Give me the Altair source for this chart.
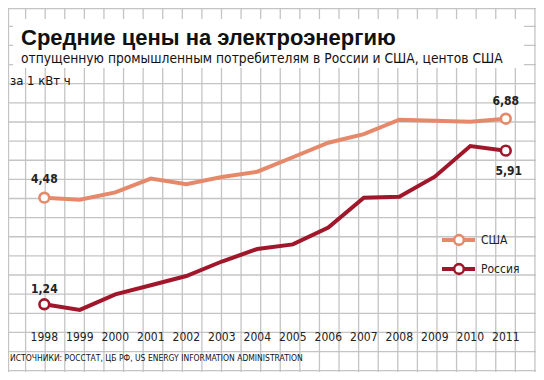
import altair as alt
import pandas as pd
import numpy as np

# ---- data ----
years = list(range(1998, 2012))
usa = [4.48, 4.42, 4.64, 5.06, 4.89, 5.11, 5.27, 5.71, 6.15, 6.41, 6.85, 6.82, 6.79, 6.88]
russia = [1.24, 1.07, 1.54, 1.82, 2.10, 2.54, 2.92, 3.06, 3.57, 4.48, 4.51, 5.12, 6.05, 5.91]
series_names = ["США", "Россия"]
end_labels = [("США", 1998, 4.48, "4,48"), ("Россия", 1998, 1.24, "1,24"),
              ("США", 2011, 6.88, "6,88"), ("Россия", 2011, 5.91, "5,91")]
title = "Средние цены на электроэнергию"
subtitle = "отпущенную промышленным потребителям в России и США, центов США"
unit = "за 1 кВт ч"
source = "ИСТОЧНИКИ: РОССТАТ, ЦБ РФ, US ENERGY INFORMATION ADMINISTRATION"

USA_C = "#E6896B"
RUS_C = "#A0172B"
TXT = "#222222"
GRID = "#c4c4c4"
W, H = 528, 364
COND = "DejaVu Sans Condensed, Roboto, sans-serif"

df = pd.DataFrame({
    "year": years * 2,
    "value": usa + russia,
    "series": ["США"] * len(years) + ["Россия"] * len(years),
})

xs = alt.Scale(domain=[1996.977, 2011.851], nice=False, zero=False)
ys = alt.Scale(domain=[-0.818, 10.246], nice=False, zero=False)
cs = alt.Scale(domain=series_names, range=[USA_C, RUS_C])

# ---- background grid (decoration) ----
vx = [0.5] + [float(v) for v in (-2 + 19.59 * np.arange(1, 28))]
hy = [0.5] + [float(v) for v in (-0.8 + 19.13 * np.arange(1, 20))]
vgrid = alt.Chart(pd.DataFrame({"gx": vx})).mark_rule(color=GRID, strokeWidth=1.3).encode(
    x=alt.X("gx:Q", scale=None), y=alt.value(0), y2=alt.value(H))
hgrid = alt.Chart(pd.DataFrame({"gy": hy})).mark_rule(color=GRID, strokeWidth=1.3).encode(
    y=alt.Y("gy:Q", scale=None), x=alt.value(0), x2=alt.value(W))

title_box = alt.Chart(pd.DataFrame({"a": [0]})).mark_rect(color="white").encode(
    x=alt.value(5), x2=alt.value(516), y=alt.value(11), y2=alt.value(60))

base = alt.Chart(df)
lines = base.mark_line(strokeWidth=4, strokeJoin="miter").encode(
    x=alt.X("year:Q", scale=xs, axis=None),
    y=alt.Y("value:Q", scale=ys, axis=None),
    color=alt.Color("series:N", scale=cs, legend=None),
    detail="series:N",
)

ends = pd.DataFrame([{"series": s, "year": y, "value": v, "label": t} for s, y, v, t in end_labels])
circles = alt.Chart(ends).mark_point(filled=True, fill="white", size=95, strokeWidth=2.6, opacity=1).encode(
    x=alt.X("year:Q", scale=xs), y=alt.Y("value:Q", scale=ys),
    stroke=alt.Stroke("series:N", scale=cs, legend=None))

offsets = [(0, -19), (0, -15), (0, -18), (3, 20)]
val_texts = []
for i, (dx, dy) in enumerate(offsets):
    val_texts.append(
        alt.Chart(ends.iloc[[i]]).mark_text(font=COND, fontWeight="bold", fontSize=12,
                                            color=TXT, dx=dx, dy=dy, baseline="middle").encode(
            x=alt.X("year:Q", scale=xs), y=alt.Y("value:Q", scale=ys), text="label:N"))

year_df = pd.DataFrame({"year": years, "lab": [str(y) for y in years]})
year_text = alt.Chart(year_df).mark_text(font=COND, fontSize=12, color=TXT,
                                         baseline="middle").encode(
    x=alt.X("year:Q", scale=xs), y=alt.value(329), text="lab:N")

# ---- legend (manual) ----
leg = []
for name, col, ly in [("США", USA_C, 232), ("Россия", RUS_C, 261)]:
    one = pd.DataFrame({"series": [name]})
    leg.append(alt.Chart(one).mark_rule(color=col, strokeWidth=4).encode(
        x=alt.value(434), x2=alt.value(467), y=alt.value(ly)))
    leg.append(alt.Chart(one).mark_point(filled=True, fill="white", stroke=col, size=95,
                                         strokeWidth=2.6, opacity=1).encode(
        x=alt.value(451), y=alt.value(ly)))
    leg.append(alt.Chart(one).mark_text(font=COND, fontSize=12, color=TXT,
                                        align="left", baseline="middle").encode(
        x=alt.value(473), y=alt.value(ly), text="series:N"))

# ---- texts ----
def txt(s, x, y, size, weight="normal", font="Liberation Sans", baseline="alphabetic"):
    return alt.Chart(pd.DataFrame({"t": [s]})).mark_text(
        font=font, fontSize=size, fontWeight=weight, color="#111111", align="left",
        baseline=baseline).encode(x=alt.value(x), y=alt.value(y), text="t:N")

texts = [
    txt(title, 13, 37, 22, "bold"),
    txt(subtitle, 13, 55, 13.7, "normal", COND),
    txt(unit, 2, 77, 13, "normal", COND),
    txt(source, 2, 353, 8.5, "normal", COND),
]

chart = alt.layer(vgrid, hgrid, title_box, lines, circles, *val_texts, year_text, *leg, *texts).properties(
    width=W, height=H, padding=0, background="white",
    autosize=alt.AutoSizeParams(type="none"),
).configure_view(stroke=None)

chart.save("out.html", embed_options={"renderer": "svg", "actions": False})
